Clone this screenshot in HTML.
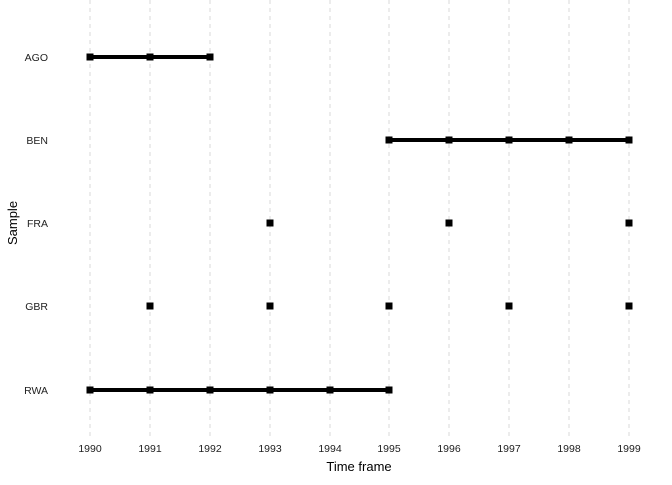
<!DOCTYPE html>
<html><head><style>body{margin:0;background:#fff}</style></head><body>
<svg width="672" height="480" xmlns="http://www.w3.org/2000/svg" font-family="Liberation Sans, sans-serif">
<g stroke="#e0e0e0" stroke-width="1.2" stroke-dasharray="4,4">
<line x1="90" y1="0" x2="90" y2="436"/><line x1="150" y1="0" x2="150" y2="436"/><line x1="210" y1="0" x2="210" y2="436"/><line x1="270" y1="0" x2="270" y2="436"/><line x1="330" y1="0" x2="330" y2="436"/><line x1="389" y1="0" x2="389" y2="436"/><line x1="449" y1="0" x2="449" y2="436"/><line x1="509" y1="0" x2="509" y2="436"/><line x1="569" y1="0" x2="569" y2="436"/><line x1="629" y1="0" x2="629" y2="436"/>
</g>
<g stroke="#000" stroke-width="4">
<line x1="90" y1="57" x2="210" y2="57"/><line x1="389" y1="140" x2="629" y2="140"/><line x1="90" y1="390" x2="389" y2="390"/>
</g>
<g fill="#000">
<rect x="86.5" y="53.5" width="7" height="7"/><rect x="146.5" y="53.5" width="7" height="7"/><rect x="206.5" y="53.5" width="7" height="7"/>
<rect x="385.5" y="136.5" width="7" height="7"/><rect x="445.5" y="136.5" width="7" height="7"/><rect x="505.5" y="136.5" width="7" height="7"/><rect x="565.5" y="136.5" width="7" height="7"/><rect x="625.5" y="136.5" width="7" height="7"/>
<rect x="266.5" y="219.5" width="7" height="7"/><rect x="445.5" y="219.5" width="7" height="7"/><rect x="625.5" y="219.5" width="7" height="7"/>
<rect x="146.5" y="302.5" width="7" height="7"/><rect x="266.5" y="302.5" width="7" height="7"/><rect x="385.5" y="302.5" width="7" height="7"/><rect x="505.5" y="302.5" width="7" height="7"/><rect x="625.5" y="302.5" width="7" height="7"/>
<rect x="86.5" y="386.5" width="7" height="7"/><rect x="146.5" y="386.5" width="7" height="7"/><rect x="206.5" y="386.5" width="7" height="7"/><rect x="266.5" y="386.5" width="7" height="7"/><rect x="326.5" y="386.5" width="7" height="7"/><rect x="385.5" y="386.5" width="7" height="7"/>
</g>
<g font-size="10.5" fill="#222" text-anchor="end">
<text x="48" y="61">AGO</text><text x="48" y="144">BEN</text><text x="48" y="227">FRA</text><text x="48" y="310">GBR</text><text x="48" y="394">RWA</text>
</g>
<g font-size="10.5" fill="#222" text-anchor="middle">
<text x="90" y="452">1990</text><text x="150" y="452">1991</text><text x="210" y="452">1992</text><text x="270" y="452">1993</text><text x="330" y="452">1994</text><text x="389" y="452">1995</text><text x="449" y="452">1996</text><text x="509" y="452">1997</text><text x="569" y="452">1998</text><text x="629" y="452">1999</text>
</g>
<text x="359" y="471" font-size="13" text-anchor="middle" fill="#000">Time frame</text>
<text transform="translate(17,223) rotate(-90)" font-size="13" text-anchor="middle" fill="#000">Sample</text>
</svg>
</body></html>
